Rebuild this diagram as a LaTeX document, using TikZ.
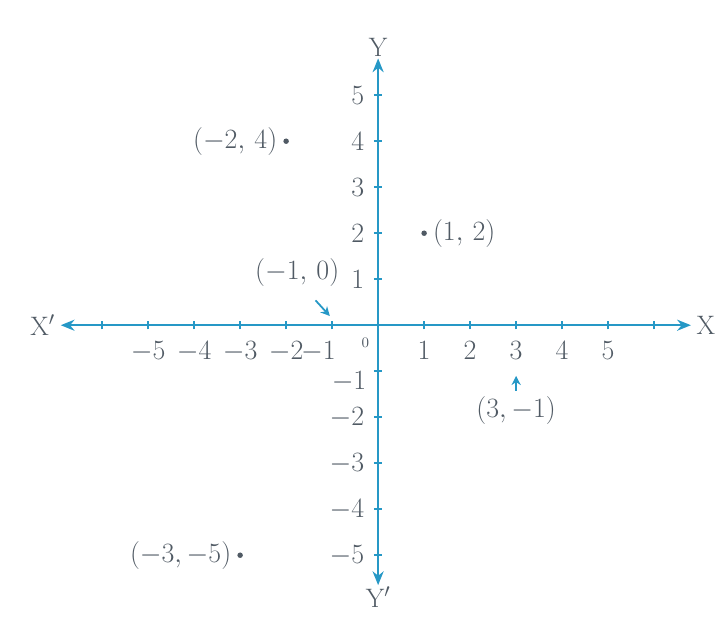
\documentclass[tikz,border=0pt]{standalone}
\usepackage{amsmath}
\usepackage{xcolor}
\usepackage{tikz}
\usetikzlibrary{arrows.meta}
\definecolor{axisblue}{RGB}{38,152,198}
\definecolor{labelgray}{RGB}{80,90,100}

\begin{document}
\begin{tikzpicture}[>={Stealth[length=3mm,width=2.4mm]},font=\fontsize{16.5}{19}\selectfont,text=labelgray]
  \useasboundingbox (-8.22,-6.39) rectangle (7.41,7.07);
  % axes
  \coordinate (xl) at (-6.9,0);
  \coordinate (xr) at (6.8,0);
  \coordinate (yt) at (0,5.8);
  \coordinate (yb) at (0,-5.65);
  \draw[<->, axisblue, line width=1.4pt] (xl) -- (xr);
  \draw[<->, axisblue, line width=1.4pt] (yb) -- (yt);
  \node[anchor=east] (xlab) at (xl) {X$'$};
  \node[anchor=west] (xrlab) at (xr) {X};
  \node[anchor=south,inner sep=1pt] (ytlab) at (yt) {Y};
  \node[anchor=north,inner sep=1pt] (yblab) at (yb) {Y$'$};
  % ticks and numbers
  \foreach \i in {-6,...,-1,1,2,...,6}
    \draw[axisblue, line width=1.2pt] (\i,-0.09) -- (\i,0.09);
  \foreach \i in {-5,...,-1,1,2,...,5}
    \draw[axisblue, line width=1.2pt] (-0.09,\i) -- (0.09,\i);
  \foreach \i in {-5,...,-2,1,2,...,5}
    \node[anchor=north,inner sep=0pt] (xn\i) at (\i,-0.34) {$\i$};
  \node[anchor=north,inner sep=0pt] (xn-1) at (-1.3,-0.34) {$-1$};
  \foreach \i in {-5,...,-2,1,2,...,5}
    \node[anchor=east] (yn\i) at (-0.18,\i) {$\i$};
  \node[anchor=east,inner sep=0pt] (yn-1) at (-0.25,-1.22) {$-1$};
  \node (o) at (-0.28,-0.38) {\small 0};
  % points
  \fill[labelgray] (-2,4) circle (1.7pt) coordinate (pa);
  \fill[labelgray] (1,2) circle (1.7pt) coordinate (pb);
  \fill[labelgray] (-3,-5) circle (1.7pt) coordinate (pc);
  \coordinate (pd) at (-1.05,0.2);
  \coordinate (dtail) at (-1.36,0.54);
  \coordinate (pe) at (3,-1.1);
  \node[anchor=east] (la) at ([xshift=-2pt]pa) {$(-2,\,4)$};
  \node[anchor=west] (lb) at ([xshift=2pt]pb) {$(1,\,2)$};
  \node[anchor=east] (lc) at ([xshift=-2pt]pc) {$(-3,-5)$};
  \node (ld) at (-1.76,1.15) {$(-1,\,0)$};
  \node (le) at (3,-1.85) {$(3,-1)$};
  \draw[->, axisblue, line width=1.1pt, >={Stealth[length=2mm,width=2mm]}] (dtail) -- (pd);
  \draw[->, axisblue, line width=1.1pt, >={Stealth[length=2mm,width=2mm]}] (le.north) -- (pe);
\end{tikzpicture}
\end{document}
